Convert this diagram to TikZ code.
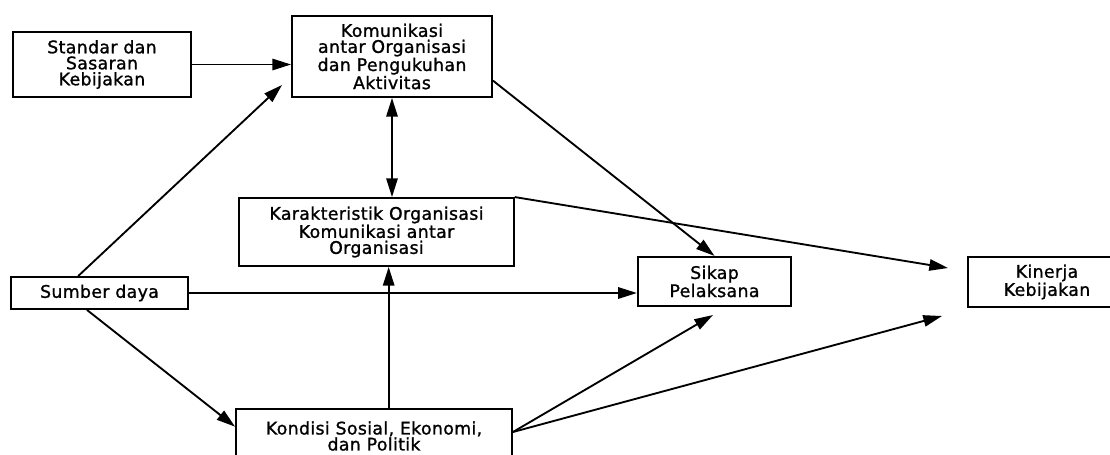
\documentclass[tikz,border=0pt]{standalone}
\usepackage{fontspec}
\newfontfamily\boxfont{DejaVu Sans}[LetterSpace=2, FakeBold=1.2]
\usetikzlibrary{arrows.meta}
\begin{document}
\begin{tikzpicture}[x=.75pt, y=-.75pt, >={Triangle[length=14pt,width=8.5pt]}, line width=1.4pt,
    box/.style={draw, align=center, inner sep=0pt, font=\boxfont\fontsize{13}{12}\selectfont}]
        \useasboundingbox (0,0) rectangle (1110,454);
        \clip (0,0) rectangle (1110,454);
        \node[box, minimum width=133.5pt, minimum height=48.75pt] (std) at (102,64.5) {Standar dan\\Sasaran\\Kebijakan};
        \node[box, minimum width=150pt, minimum height=60.75pt] (kom) at (392,56.5) {Komunikasi\\antar Organisasi\\dan Pengukuhan\\Aktivitas};
        \node[box, minimum width=206pt, minimum height=51pt] (kar) at (376.5,232) {Karakteristik Organisasi\\Komunikasi antar\\Organisasi};
        \node[box, minimum width=133pt, minimum height=24pt] (sum) at (99.5,293) {Sumber daya};
        \node[box, minimum width=115pt, minimum height=37pt] (sik) at (714.5,281.5) {Sikap\\Pelaksana};
        \node[box, minimum width=118.5pt, minimum height=37.5pt] (kin) at (1047,282) {Kinerja\\Kebijakan};
        \node[box, minimum width=207pt, minimum height=40.5pt] (kon) at (374,436) {Kondisi Sosial, Ekonomi,\\dan Politik};
        \coordinate (t1) at (282,85);
        \coordinate (t2) at (948,268);
        \coordinate (t3) at (713,315);
        \coordinate (t4) at (942,316);
        \draw[->] (std.east) -- (std.east -| kom.west);
        \draw[->] ([xshift=-16pt]sum.north) -- (t1);
        \draw[<->] (kom.south) -- (kom.south |- kar.north);
        \draw[->] ([xshift=11pt]kon.north) -- ([xshift=11pt]kon.north |- kar.south);
        \draw[->] (sum.east) -- (sum.east -| sik.west);
        \draw[->] ([xshift=-9.4pt]sum.south) -- ([yshift=7pt]kon.west);
        \draw[->] ([yshift=13pt]kom.south east) -- (sik.north);
        \draw[->] (kar.north east) -- (t2);
        \draw[->] ([yshift=3pt]kon.east) -- (t3);
        \draw[->] ([yshift=3pt]kon.east) -- (t4);
    \end{tikzpicture}
\end{document}
